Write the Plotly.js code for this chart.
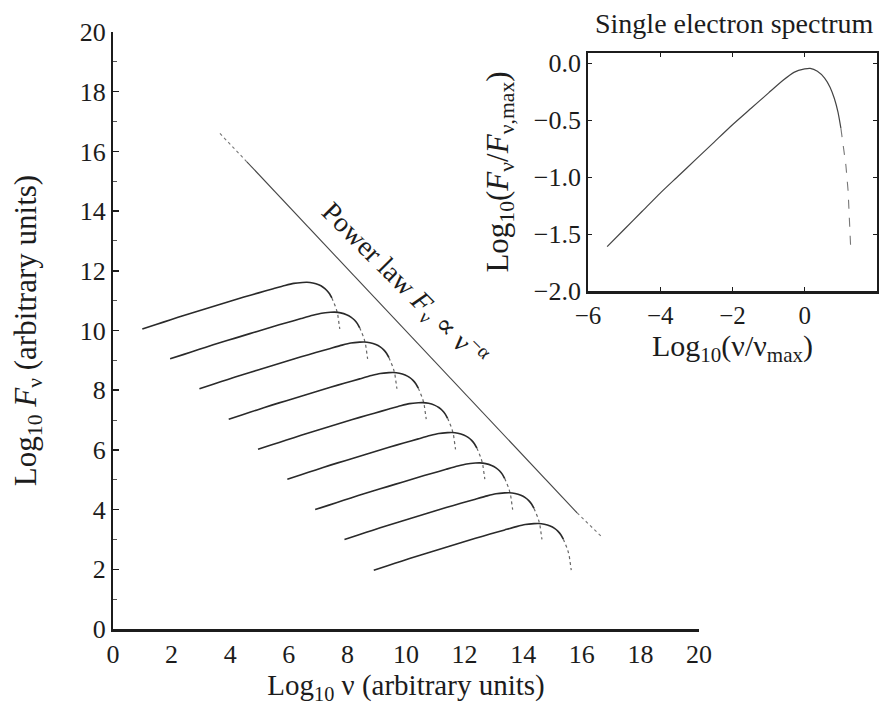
<!DOCTYPE html>
<html>
<head>
<meta charset="utf-8">
<script src="https://cdn.plot.ly/plotly-3.0.1.min.js"></script>
<style>
  html, body { margin: 0; padding: 0; background: #ffffff; }
  #chart { width: 881px; height: 717px; }
</style>
</head>
<body>
<div id="chart"></div>
<script>
// Single-electron spectrum: log10(nu/nu_max), log10(F/F_max)
const shapeU = [-5.47, -5.0, -4.5, -4.0, -3.5, -3.0, -2.5, -2.0, -1.5, -1.0, -0.6, -0.3, 0.0, 0.15, 0.35, 0.55, 0.7, 0.82, 0.92, 1.0, 1.08, 1.14, 1.2, 1.24, 1.27];
const shapeV = [-1.61, -1.46, -1.30, -1.14, -0.99, -0.84, -0.69, -0.54, -0.40, -0.26, -0.15, -0.08, -0.05, -0.045, -0.07, -0.13, -0.21, -0.31, -0.43, -0.57, -0.74, -0.90, -1.12, -1.35, -1.61];
// index where the drawn tail turns from solid to dotted
const tailStart = 19;

// Low-frequency starting point of each electron's spectrum in the main panel
const startX = [1.0, 1.95, 2.95, 3.95, 4.95, 5.95, 6.9, 7.9, 8.9];
const startY = [10.05, 9.05, 8.05, 7.03, 6.02, 5.02, 4.0, 3.0, 1.97];

// Power-law envelope (dotted ends, solid middle)
const powerX = [3.65, 4.57, 15.84, 16.69];
const powerY = [16.6, 15.65, 3.89, 3.08];

// Tick labels
const mainTicks = [0, 2, 4, 6, 8, 10, 12, 14, 16, 18, 20];
const minorTicks = [1, 3, 5, 7, 9, 11, 13, 15, 17, 19];
const insetXTicks = [-6, -4, -2, 0, 2];
const insetYTicks = [0.0, -0.5, -1.0, -1.5, -2.0];

const SERIF = 'Liberation Serif, DejaVu Serif, serif';
const INK = '#1c1c1c';

const traces = [];
for (let k = 0; k < startX.length; k++) {
  const dx = startX[k] - shapeU[0];
  const dy = startY[k] - shapeV[0];
  const xs = shapeU.map(u => u + dx);
  const ys = shapeV.map(v => v + dy);
  traces.push({
    x: xs.slice(0, tailStart + 1), y: ys.slice(0, tailStart + 1),
    type: 'scatter', mode: 'lines', xaxis: 'x', yaxis: 'y',
    line: {color: '#2a2a2a', width: 1.6, shape: 'spline', smoothing: 0.6},
    hoverinfo: 'skip'
  });
  traces.push({
    x: xs.slice(tailStart), y: ys.slice(tailStart),
    type: 'scatter', mode: 'lines', xaxis: 'x', yaxis: 'y',
    line: {color: '#666', width: 1.2, dash: 'dot'},
    hoverinfo: 'skip'
  });
}
// power law line
traces.push({x: powerX.slice(0, 2), y: powerY.slice(0, 2), type: 'scatter', mode: 'lines',
  xaxis: 'x', yaxis: 'y', line: {color: '#777', width: 1.1, dash: 'dot'}, hoverinfo: 'skip'});
traces.push({x: powerX.slice(1, 3), y: powerY.slice(1, 3), type: 'scatter', mode: 'lines',
  xaxis: 'x', yaxis: 'y', line: {color: '#444', width: 1.1}, hoverinfo: 'skip'});
traces.push({x: powerX.slice(2, 4), y: powerY.slice(2, 4), type: 'scatter', mode: 'lines',
  xaxis: 'x', yaxis: 'y', line: {color: '#777', width: 1.1, dash: 'dot'}, hoverinfo: 'skip'});

// inset curve
traces.push({
  x: shapeU.slice(0, tailStart + 1), y: shapeV.slice(0, tailStart + 1),
  type: 'scatter', mode: 'lines', xaxis: 'x2', yaxis: 'y2',
  line: {color: '#444', width: 1.2, shape: 'spline', smoothing: 0.6}, hoverinfo: 'skip'
});
traces.push({
  x: shapeU.slice(tailStart), y: shapeV.slice(tailStart),
  type: 'scatter', mode: 'lines', xaxis: 'x2', yaxis: 'y2',
  line: {color: '#777', width: 1.1, dash: 'dash'}, hoverinfo: 'skip'
});

const W = 881, H = 717;
const px = v => v / W;
const py = v => 1 - v / H;

const layout = {
  width: W, height: H,
  margin: {l: 0, r: 0, t: 0, b: 0},
  paper_bgcolor: '#ffffff', plot_bgcolor: 'rgba(0,0,0,0)',
  showlegend: false,
  font: {family: SERIF, color: INK, size: 24},
  xaxis: {
    domain: [px(113), px(699)], range: [0, 20], anchor: 'y',
    tickvals: mainTicks, ticktext: mainTicks.map(String),
    showline: true, linecolor: INK, linewidth: 3,
    ticks: '', showgrid: false, zeroline: false,
    tickfont: {family: SERIF, size: 26, color: INK},
    title: {text: 'Log<sub>10</sub> ν (arbitrary units)', font: {family: SERIF, size: 29, color: INK}, standoff: 3},
    automargin: false
  },
  yaxis: {
    domain: [py(629), py(32)], range: [0, 20], anchor: 'x',
    tickvals: mainTicks, ticktext: mainTicks.map(String),
    showline: true, linecolor: INK, linewidth: 2,
    ticks: 'inside', ticklen: 6, tickwidth: 1.5, tickcolor: INK,
    minor: {tickvals: minorTicks, ticks: 'inside', ticklen: 4, tickwidth: 1, tickcolor: '#555'},
    showgrid: false, zeroline: false,
    tickfont: {family: SERIF, size: 26, color: INK},
    title: {text: 'Log<sub>10</sub> <i>F</i><sub>ν</sub> (arbitrary units)', font: {family: SERIF, size: 31, color: INK}, standoff: 34},
    automargin: false
  },
  xaxis2: {
    domain: [px(588), px(877)], range: [-6, 2], anchor: 'y2',
    tickvals: insetXTicks, ticktext: insetXTicks.map(v => v < 0 ? '\u2212' + Math.abs(v) : String(v)),
    showline: true, mirror: 'ticks', linecolor: INK, linewidth: 2.5,
    ticks: 'inside', ticklen: 4, tickwidth: 1, tickcolor: INK,
    showgrid: false, zeroline: false,
    tickfont: {family: SERIF, size: 25, color: INK},
    title: {text: 'Log<sub>10</sub>(ν/ν<sub>max</sub>)', font: {family: SERIF, size: 30, color: INK}, standoff: 4},
    automargin: false
  },
  yaxis2: {
    domain: [py(291), py(53)], range: [-2.0, 0.09], anchor: 'x2',
    tickvals: insetYTicks, ticktext: insetYTicks.map(v => (v < 0 ? '\u2212' : '') + Math.abs(v).toFixed(1)),
    showline: true, mirror: 'ticks', linecolor: INK, linewidth: 1.8,
    ticks: 'inside', ticklen: 4, tickwidth: 1, tickcolor: INK,
    showgrid: false, zeroline: false,
    tickfont: {family: SERIF, size: 26, color: INK},
    title: {text: 'Log<sub>10</sub>(<i>F</i><sub>ν</sub>/<i>F</i><sub>ν,max</sub>)', font: {family: SERIF, size: 31, color: INK}, standoff: 16},
    automargin: false
  },
  annotations: [
    {
      text: 'Single electron spectrum', xref: 'paper', yref: 'paper',
      x: px(734), y: py(24), xanchor: 'center', yanchor: 'middle', showarrow: false,
      font: {family: SERIF, size: 28, color: INK}
    },
    {
      text: 'Power law <i>F</i><sub>ν</sub> ∝ ν<sup>−α</sup>', xref: 'x', yref: 'y',
      x: 9.95, y: 11.55, xanchor: 'center', yanchor: 'middle', showarrow: false,
      textangle: 45,
      font: {family: SERIF, size: 28, color: INK}
    }
  ]
};

Plotly.newPlot('chart', traces, layout, {staticPlot: true, displayModeBar: false});
</script>
</body>
</html>
